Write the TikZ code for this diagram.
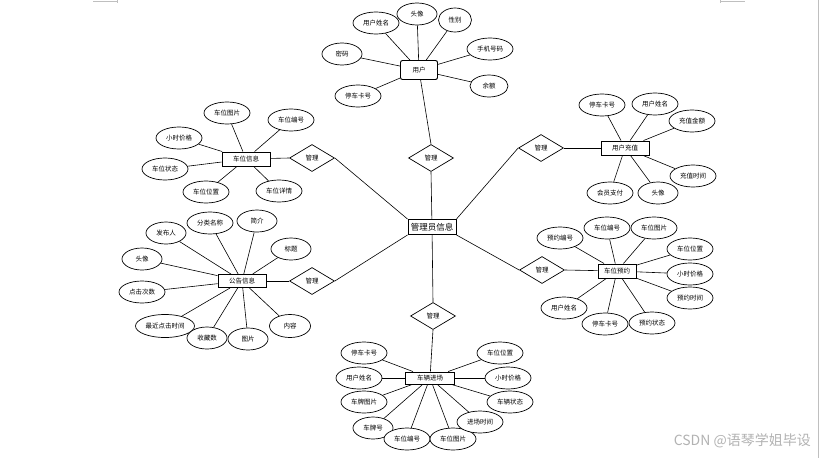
\documentclass[tikz,border=0pt]{standalone}
\usepackage{fontspec}
\newfontfamily\cjk{Noto Sans CJK SC}
\usetikzlibrary{shapes.geometric}
\begin{document}
\begin{tikzpicture}[x=1pt,y=-1pt,
  font=\cjk\fontsize{6.5}{7}\selectfont,
  attr/.style={ellipse,draw,line width=0.7pt,fill=white,minimum width=46pt,minimum height=22pt,inner sep=0pt},
  attrs/.style={attr,minimum width=40pt},
  ent/.style={rectangle,draw,line width=0.95pt,fill=white,minimum width=48pt,minimum height=14pt,inner sep=0pt},
  rel/.style={diamond,draw,line width=0.7pt,fill=white,minimum width=45pt,minimum height=27pt,inner sep=0pt},
  conn/.style={draw,line width=0.6pt},
  pagemark/.style={draw=black!25,line width=0.8pt}]
\useasboundingbox (0,0) rectangle (819,458);
% page marks
\draw[pagemark] (93,1.5) -- (117,1.5) (117,0) -- (117,3);
\draw[pagemark] (720,1.5) -- (745,1.5) (720,0) -- (720,3);
\draw[pagemark] (818,0) -- (818,458);
\node[text=black!30,font=\cjk\fontsize{14}{15}\selectfont,anchor=east,inner sep=0pt] (wm) at (811,441) {CSDN @语琴学姐毕设};

% central
\node[ent,minimum width=48pt,minimum height=15pt,font=\cjk\fontsize{8.5}{9}\selectfont] (c) at (432,227) {管理员信息};

% user
\node[ent,minimum width=37pt,minimum height=19pt,rounded corners=2pt] (u) at (419,70) {用户};
\node[attr] (u1) at (376,23) {用户姓名};
\node[attrs] (u2) at (417,14) {头像};
\node[attrs,minimum width=33pt,minimum height=24pt] (u3) at (455,20) {性别};
\node[attr] (u4) at (490,49) {手机号码};
\node[attrs,minimum width=38pt] (u5) at (489,86) {余额};
\node[attrs] (u6) at (342,54) {密码};
\node[attr] (u7) at (358,96) {停车卡号};
\foreach \i in {1,...,7} \draw[conn] (u) -- (u\i);
\node[rel] (d1) at (431,158) {管理};
\draw[conn] (u) -- (d1.north);
\draw[conn] (d1.south) -- (c);

% parking space info
\node[ent] (p) at (246,159) {车位信息};
\node[attr] (p1) at (227,113) {车位图片};
\node[attr] (p2) at (291,120) {车位编号};
\node[attr] (p3) at (179,138) {小时价格};
\node[attr] (p4) at (165,169) {车位状态};
\node[attr] (p5) at (206,192) {车位位置};
\node[attr] (p6) at (279,191) {车位详情};
\foreach \i in {1,...,6} \draw[conn] (p) -- (p\i);
\node[rel] (d2) at (312,158) {管理};
\draw[conn] (p) -- (d2.west);
\draw[conn] (d2.east) -- (c.north west);

% notice info
\node[ent,minimum height=13pt] (n) at (242,281) {公告信息};
\node[attrs] (n1) at (166,233) {发布人};
\node[attr] (n2) at (210,223) {分类名称};
\node[attrs] (n3) at (257,221) {简介};
\node[attrs] (n4) at (291,249) {标题};
\node[attrs] (n5) at (142,259) {头像};
\node[attr] (n6) at (142,292) {点击次数};
\node[attr,minimum width=59pt,minimum height=23pt] (n7) at (165,326) {最近点击时间};
\node[attrs] (n8) at (207,338) {收藏数};
\node[attrs] (n9) at (248,339) {图片};
\node[attrs,minimum width=41pt,minimum height=23pt] (n10) at (290,326) {内容};
\foreach \i in {1,...,10} \draw[conn] (n) -- (n\i);
\node[rel] (d3) at (312,281) {管理};
\draw[conn] (n) -- (d3.west);
\draw[conn] (d3.east) -- (c.south west);

% recharge
\node[ent] (r) at (625,148) {用户充值};
\node[attr] (r1) at (602,105) {停车卡号};
\node[attr] (r2) at (655,104) {用户姓名};
\node[attr] (r3) at (692,121) {充值金额};
\node[attr] (r4) at (693,176) {充值时间};
\node[attr] (r5) at (610,193) {会员支付};
\node[attrs] (r6) at (658,193) {头像};
\foreach \i in {1,...,6} \draw[conn] (r) -- (r\i);
\node[rel] (d4) at (541,148) {管理};
\draw[conn] (r) -- (d4.east);
\draw[conn] (d4.west) -- (c.north east);

% reservation
\node[ent,minimum width=38pt] (b) at (617,271) {车位预约};
\node[attr] (b1) at (560,238) {预约编号};
\node[attr] (b2) at (607,228) {车位编号};
\node[attr] (b3) at (654,228) {车位图片};
\node[attr] (b4) at (690,249) {车位位置};
\node[attr] (b5) at (690,274) {小时价格};
\node[attr] (b6) at (690,298) {预约时间};
\node[attr] (b7) at (564,308) {用户姓名};
\node[attr] (b8) at (605,324) {停车卡号};
\node[attr] (b9) at (652,323) {预约状态};
\foreach \i in {1,...,9} \draw[conn] (b) -- (b\i);
\node[rel] (d5) at (542,270) {管理};
\draw[conn] (b) -- (d5.east);
\draw[conn] (d5.west) -- (c.south east);

% vehicle entry
\node[ent,minimum width=49pt,minimum height=12pt] (v) at (430,378) {车辆进场};
\node[attr] (v1) at (364,353) {停车卡号};
\node[attr] (v2) at (359,378) {用户姓名};
\node[attr] (v3) at (364,402) {车牌图片};
\node[attrs] (v4) at (373,428) {车牌号};
\node[attr] (v5) at (407,439) {车位编号};
\node[attr] (v6) at (453,439) {车位图片};
\node[attr] (v7) at (480,422) {进场时间};
\node[attr] (v8) at (510,402) {车辆状态};
\node[attr] (v9) at (508,378) {小时价格};
\node[attr] (v10) at (500,353) {车位位置};
\foreach \i in {1,...,10} \draw[conn] (v) -- (v\i);
\node[rel] (d6) at (433,316) {管理};
\draw[conn] (v) -- (d6.south);
\draw[conn] (d6.north) -- (c);
\end{tikzpicture}
\end{document}
